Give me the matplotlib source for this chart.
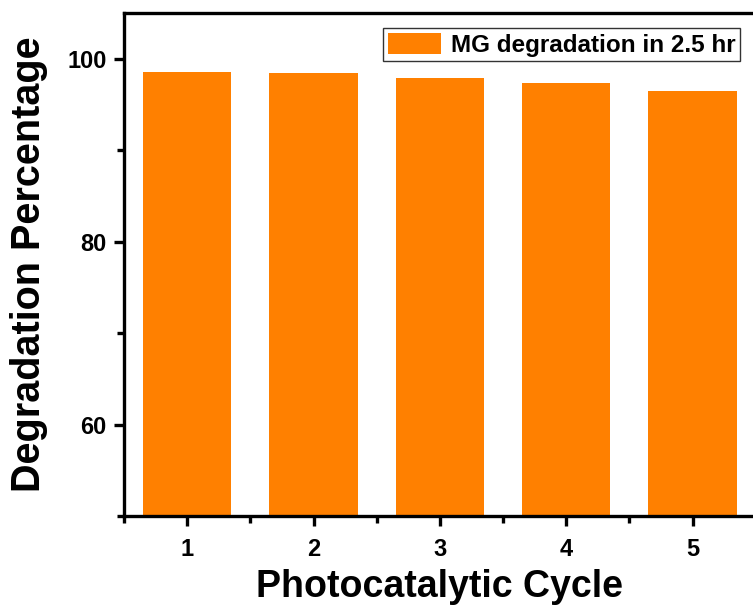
import numpy as np
import matplotlib
matplotlib.use('Agg')
import matplotlib.pyplot as plt
from matplotlib.ticker import MultipleLocator

plt.rcParams['font.family'] = ['Liberation Sans', 'DejaVu Sans']
plt.rcParams['font.weight'] = 'bold'

# cycles and degradation values
cycles = [1, 2, 3, 4, 5]
degradation = [98.6, 98.4, 97.9, 97.4, 96.5]
series_label = 'MG degradation in 2.5 hr'

fig = plt.figure(figsize=(7.53, 6.10), dpi=100)
ax = fig.add_axes([0.1647, 0.154, 0.839, 0.8246])

ax.bar(cycles, degradation, width=0.7, color='#ff8000', label=series_label)

ax.set_xlim(0.5, 5.5)
ax.set_ylim(50, 105)
ax.set_xticks(cycles)
ax.xaxis.set_minor_locator(MultipleLocator(0.5))
ax.yaxis.set_minor_locator(MultipleLocator(10))
ax.set_yticks([60, 80, 100])

for s in ax.spines.values():
    s.set_linewidth(2.4)
ax.tick_params(which='major', direction='out', length=7.5, width=2.4, labelsize=17, pad=5)
ax.tick_params(axis='x', which='major', pad=8)
ax.tick_params(which='minor', direction='out', length=5, width=2.4)
for lab in ax.get_xticklabels() + ax.get_yticklabels():
    lab.set_fontweight('bold')

ax.set_xlabel('Photocatalytic Cycle', fontsize=27, fontweight='bold', labelpad=6)
ax.set_ylabel('Degradation Percentage', fontsize=28.5, fontweight='bold', labelpad=14)

leg = ax.legend(loc='upper right', bbox_to_anchor=(0.987, 0.985), fontsize=17.5,
                frameon=True, fancybox=False, edgecolor='black',
                handlelength=2.2, handleheight=0.95, borderpad=0.2, handletextpad=0.4,
                borderaxespad=0.3)
leg.get_frame().set_linewidth(1.0)
for t in leg.get_texts():
    t.set_fontweight('bold')

fig.savefig('out.png', dpi=100)
